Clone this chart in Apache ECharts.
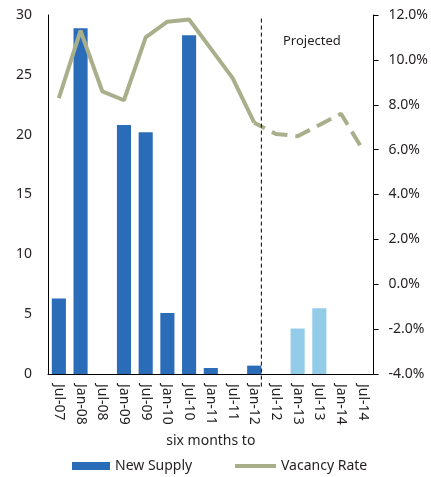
<!DOCTYPE html>
<html>
<head>
<meta charset="utf-8">
<script src="https://cdn.jsdelivr.net/npm/echarts@6/dist/echarts.min.js"></script>
<style>
  html, body { margin: 0; padding: 0; background: #fff; }
  #chart { width: 431px; height: 477px; }
</style>
</head>
<body>
<div id="chart"></div>
<script>
var categories = ["Jul-07", "Jan-08", "Jul-08", "Jan-09", "Jul-09", "Jan-10", "Jul-10", "Jan-11",
    "Jul-11", "Jan-12", "Jul-12", "Jan-13", "Jul-13", "Jan-14", "Jul-14"];
var newSupply = [6.3, 28.9, 0, 20.8, 20.2, 5.1, 28.3, 0.5, 0, 0.7, 0, 3.8, 5.5, 0, 0];
var projectedFrom = 10; // bars from Jul-12 on are projections
var vacancyActual = [8.3, 11.3, 8.6, 8.2, 11.0, 11.7, 11.8, 10.5, 9.2, 7.2, "-", "-", "-", "-", "-"];
var vacancyProjected = ["-", "-", "-", "-", "-", "-", "-", "-", "-", 7.2, 6.7, 6.6, 7.1, 7.6, 6.0];

var textColor = "#231f20";
var font = "Noto Sans";
var lineColor = "#a9af8b";

var chart = echarts.init(document.getElementById("chart"));

var barData = [];
for (var i = 0; i < newSupply.length; i++) {
    barData.push({
        value: newSupply[i],
        itemStyle: {color: i >= projectedFrom ? "#93cce8" : "#2b6cb8"}
    });
}

var legendText = {fontFamily: font, fontSize: 14, color: textColor};

var option = {
    animation: false,
    textStyle: {fontFamily: font},
    grid: {left: 48, right: 57, top: 15, bottom: 103},
    legend: [{
        left: 72,
        top: 459,
        padding: 0,
        itemWidth: 38,
        itemHeight: 8,
        textStyle: legendText,
        data: [{name: "New Supply", icon: "rect"}]
    }, {
        left: 235,
        top: 459,
        padding: 0,
        itemWidth: 41,
        itemHeight: 4,
        textStyle: legendText,
        data: [{name: "Vacancy Rate", icon: "rect", itemStyle: {color: lineColor}}]
    }],
    xAxis: [{
        type: "category",
        data: categories,
        name: "six months to",
        nameLocation: "middle",
        nameGap: 60,
        nameTextStyle: {fontFamily: font, fontSize: 14, color: textColor},
        axisLine: {lineStyle: {color: "#000", width: 1}},
        axisTick: {inside: true, length: 4, lineStyle: {color: "#000"}},
        axisLabel: {rotate: -90, fontSize: 14, color: textColor, margin: 10, fontFamily: font}
    }, {
        type: "value",
        min: 0,
        max: 15,
        show: false
    }],
    yAxis: [{
        type: "value",
        min: 0,
        max: 30,
        interval: 5,
        splitLine: {show: false},
        axisLine: {show: true, lineStyle: {color: "#000"}},
        axisTick: {show: false},
        axisLabel: {fontSize: 14, color: textColor, margin: 16, fontFamily: font}
    }, {
        type: "value",
        min: -4,
        max: 12,
        interval: 2,
        position: "right",
        splitLine: {show: false},
        axisLine: {show: true, lineStyle: {color: "#000"}},
        axisTick: {show: true, length: 5, lineStyle: {color: "#000"}},
        axisLabel: {
            fontSize: 14, color: textColor, margin: 15, fontFamily: font,
            formatter: function (v) { return v.toFixed(1) + "%"; }
        }
    }],
    series: [{
        name: "New Supply",
        type: "bar",
        barWidth: "65%",
        data: barData,
        itemStyle: {color: "#2b6cb8"},
        z: 2
    }, {
        name: "Vacancy Rate",
        type: "line",
        yAxisIndex: 1,
        data: vacancyActual,
        symbol: "none",
        color: lineColor,
        lineStyle: {color: lineColor, width: 4},
        z: 3
    }, {
        name: "Vacancy Rate (projected)",
        type: "line",
        yAxisIndex: 1,
        data: vacancyProjected,
        symbol: "none",
        color: lineColor,
        lineStyle: {color: lineColor, width: 4, type: "dashed", dashOffset: 4},
        z: 3
    }]
};

chart.setOption(option);

// dashed divider between actual and projected, placed through the axes
var divX = chart.convertToPixel({xAxisIndex: 1}, 9.83);
var divTop = chart.convertToPixel({yAxisIndex: 0}, 29.7);
var divBottom = chart.convertToPixel({yAxisIndex: 0}, -1.2);
chart.setOption({
    graphic: [{
        type: "text",
        left: 283,
        top: 35,
        style: {text: "Projected", font: "13px 'Noto Sans'", fill: textColor}
    }, {
        type: "line",
        shape: {x1: divX, y1: divTop, x2: divX, y2: divBottom},
        style: {stroke: "#000", lineWidth: 1, lineDash: [4, 3]},
        z: 10
    }]
});
</script>
</body>
</html>
